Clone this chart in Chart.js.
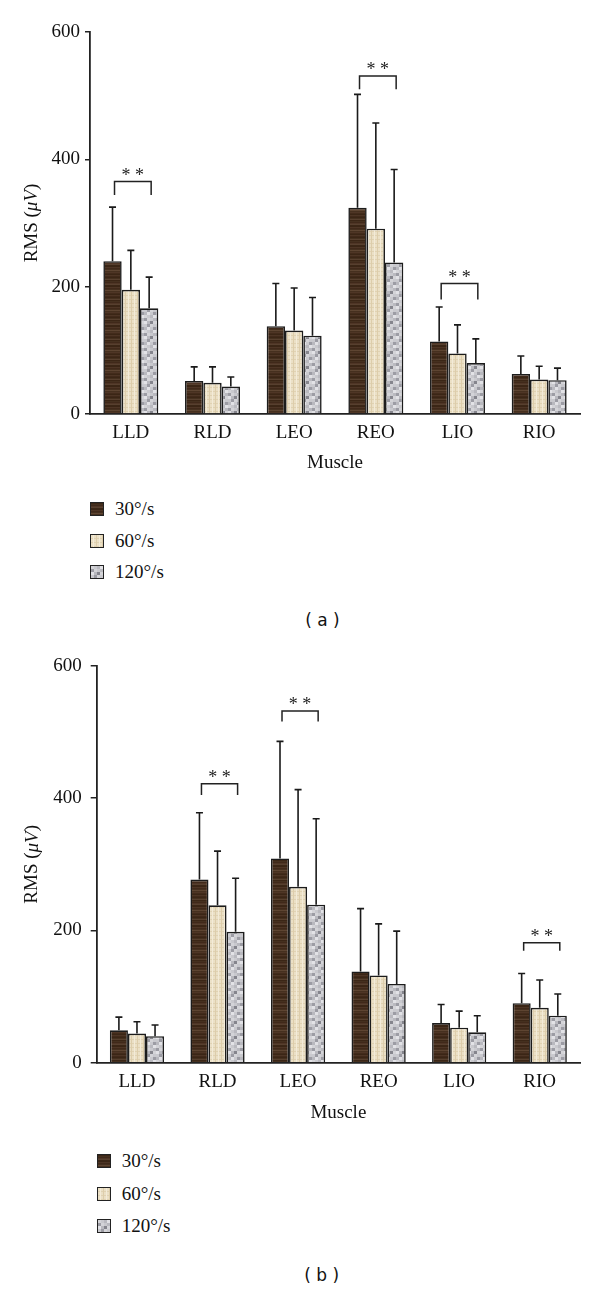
<!DOCTYPE html>
<html><head><meta charset="utf-8">
<script src="https://cdn.jsdelivr.net/npm/chart.js@4.4.1/dist/chart.umd.min.js"></script>
<style>
html,body{margin:0;padding:0;background:#fff;}
body{width:600px;height:1290px;position:relative;overflow:hidden;}
canvas{position:absolute;left:0;}
.sw{position:absolute;width:12px;height:12px;border:1px solid #222;background-size:auto;}
.lt{position:absolute;font:19px "Liberation Serif",serif;color:#111;transform:translateY(-50%);white-space:nowrap;}
.cap{position:absolute;font:17px "DejaVu Sans",sans-serif;color:#111;transform:translate(-50%,-50%);white-space:pre;}
</style></head>
<body>
<canvas id="cA" width="600" height="480" style="top:0px;width:600px;height:480px"></canvas>
<canvas id="cB" width="600" height="490" style="top:640px;width:600px;height:490px"></canvas>
<div id="legA"></div><div id="legB"></div>
<div class="cap" style="left:322.5px;top:620px">( a )</div>
<div class="cap" style="left:321.7px;top:1275px">( b )</div>
<script>
// ---------- data ----------
const categories = ['LLD','RLD','LEO','REO','LIO','RIO'];
const seriesNames = ['30°/s','60°/s','120°/s'];
const yTicks = [0,200,400,600];

// panel (a)
const a30  = [240, 52, 138, 324, 114, 63];
const a60  = [195, 49, 131, 291,  95, 54];
const a120 = [166, 43, 123, 238,  80, 53];
const a30Sd  = [85, 22, 67, 178, 54, 28];
const a60Sd  = [62, 25, 67, 166, 45, 21];
const a120Sd = [49, 15, 60, 146, 38, 19];
const aSigCats = [0, 3, 4];
const aSigTop  = [365, 531, 205];
const aSigLeg  = [344, 510, 180];

// panel (b)
const b30  = [49, 277, 309, 138, 60, 90];
const b60  = [44, 238, 266, 132, 53, 83];
const b120 = [40, 198, 239, 119, 46, 71];
const b30Sd  = [20, 101, 177, 95, 28, 45];
const b60Sd  = [18,  82, 147, 78, 25, 42];
const b120Sd = [17,  81, 130, 80, 25, 33];
const bSigCats = [1, 2, 5];
const bSigTop  = [422, 532, 181.5];
const bSigLeg  = [405, 516, 169.5];

// ---------- textures ----------
function tile(w,h,draw){const c=document.createElement('canvas');c.width=w;c.height=h;draw(c.getContext('2d'));return c;}
const brownShades=['#3b2616','#45301f','#4f3626','#40291a','#57402f','#46301f','#3a2515','#4d3525','#5e4532','#422b1b'];
const brownRows=[0,1,3,2,4,0,6,7,3,1,8,5,2,9,0,7,3,6,1,4];
const brownTile=tile(10,brownRows.length,g=>{brownRows.forEach((s,r)=>{g.fillStyle=brownShades[s];g.fillRect(0,r,10,1);});});
const beigeTile=tile(6,8,g=>{g.fillStyle='#ebe0c6';g.fillRect(0,0,6,8);g.fillStyle='#e0d2b2';g.fillRect(0,3,6,1);g.fillRect(0,7,6,1);g.fillStyle='#f3ebd8';g.fillRect(2,0,1,8);g.fillStyle='#ddcdab';g.fillRect(5,0,1,8);});
const greyShades=['#d4d4d8','#b9b9bf','#9c9ca4','#c9c9ce','#85858d','#e2e2e6'];
const greyMap=[[0,3,1,5],[2,0,3,1],[5,1,4,0],[3,2,0,3],[1,5,3,2]];
const greyTile=tile(12,15,g=>{greyMap.forEach((row,r)=>row.forEach((s,c)=>{g.fillStyle=greyShades[s];g.fillRect(c*3,r*3,3,3);}));});
const tmp=document.createElement('canvas').getContext('2d');
const fills=[tmp.createPattern(brownTile,'repeat'),tmp.createPattern(beigeTile,'repeat'),tmp.createPattern(greyTile,'repeat')];
const tiles=[brownTile,beigeTile,greyTile];

// ---------- plugins ----------
const errPlugin={id:'err',afterDatasetsDraw(chart,args,opts){
  const ctx=chart.ctx,ys=chart.scales.y;
  ctx.save();ctx.strokeStyle='#1a1a1a';ctx.lineWidth=1.6;
  chart.data.datasets.forEach((ds,i)=>{
    const meta=chart.getDatasetMeta(i);
    meta.data.forEach((el,j)=>{
      const top=ys.getPixelForValue(ds.data[j]+ds.sd[j]);
      ctx.beginPath();ctx.moveTo(el.x,el.y);ctx.lineTo(el.x,top);
      ctx.moveTo(el.x-3.5,top);ctx.lineTo(el.x+3.5,top);ctx.stroke();
    });
  });
  ctx.restore();
}};
const sigPlugin={id:'sig',afterDatasetsDraw(chart,args,opts){
  const ctx=chart.ctx,ys=chart.scales.y;
  const m0=chart.getDatasetMeta(0),m2=chart.getDatasetMeta(2);
  ctx.save();ctx.strokeStyle='#222';ctx.lineWidth=1.5;ctx.fillStyle='#222';
  ctx.font='18px "Liberation Serif", serif';ctx.textAlign='center';ctx.textBaseline='alphabetic';
  opts.cats.forEach((c,k)=>{
    const x1=m0.data[c].x+2,x2=m2.data[c].x+2;
    const yt=ys.getPixelForValue(opts.top[k]),yb=ys.getPixelForValue(opts.leg[k]);
    ctx.beginPath();ctx.moveTo(x1,yb);ctx.lineTo(x1,yt);ctx.lineTo(x2,yt);ctx.lineTo(x2,yb);ctx.stroke();
    ctx.fillText('* *',(x1+x2)/2,yt-0.5);
  });
  ctx.restore();
}};
const yTitlePlugin={id:'ytitle',afterDraw(chart,args,opts){
  const ctx=chart.ctx,ca=chart.chartArea;
  const f='19px "Liberation Serif", serif';
  const parts=[['RMS (', f],['μV','italic '+f],[')',f]];
  let total=0;parts.forEach(p=>{ctx.font=p[1];total+=ctx.measureText(p[0]).width;});
  ctx.save();ctx.translate(opts.x,(ca.top+ca.bottom)/2);ctx.rotate(-Math.PI/2);
  ctx.fillStyle='#111';ctx.textBaseline='middle';ctx.textAlign='left';
  let x=-total/2;parts.forEach(p=>{ctx.font=p[1];ctx.fillText(p[0],x,0);x+=ctx.measureText(p[0]).width;});
  ctx.restore();
}};

const serif={family:'"Liberation Serif", serif',size:19};
function makeChart(id,vals,sds,sig,L){
  return new Chart(document.getElementById(id),{
    type:'bar',
    data:{labels:categories,datasets:vals.map((v,i)=>({label:seriesNames[i],data:v,sd:sds[i],backgroundColor:fills[i],borderColor:'#1c1c1c',borderWidth:1.6,borderSkipped:'bottom',categoryPercentage:0.673,barPercentage:1.0}))},
    options:{
      responsive:false,animation:false,devicePixelRatio:1,
      layout:{padding:{top:L.top,right:20,left:0,bottom:0}},
      plugins:{legend:{display:false},tooltip:{enabled:false},sig:sig,ytitle:{x:L.tx}},
      scales:{
        x:{grid:{display:true,drawOnChartArea:false,drawTicks:false},border:{display:true,color:'#222',width:1.8},
           ticks:{color:'#111',font:serif,padding:8,maxRotation:0,autoSkip:false},
           title:{display:true,text:'Muscle',color:'#111',font:serif,padding:{top:0,bottom:5.6}},
           afterFit(s){s.height=L.xh;}},
        y:{min:0,max:600,afterBuildTicks(s){s.ticks=yTicks.map(v=>({value:v}));},
           ticks:{color:'#111',font:serif,padding:L.tp},
           grid:{display:true,drawOnChartArea:false,drawTicks:true,tickLength:L.tl,color:'#222',lineWidth:1.5},
           border:{display:true,color:'#222',width:1.8},
           afterFit(s){s.width=L.yw;}}
      }
    },
    plugins:[errPlugin,sigPlugin,yTitlePlugin]
  });
}
makeChart('cA',[a30,a60,a120],[a30Sd,a60Sd,a120Sd],{cats:aSigCats,top:aSigTop,leg:aSigLeg},{top:32,xh:66,yw:90,tl:5,tp:5,tx:31.7});
makeChart('cB',[b30,b60,b120],[b30Sd,b60Sd,b120Sd],{cats:bSigCats,top:bSigTop,leg:bSigLeg},{top:26,xh:67.3,yw:96.7,tl:6,tp:9,tx:32.5});

// ---------- legends ----------
function legend(elId,x,tx,ys){
  const host=document.getElementById(elId);
  seriesNames.forEach((n,i)=>{
    const s=document.createElement('div');s.className='sw';
    s.style.left=x+'px';s.style.top=(ys[i]-7)+'px';s.style.backgroundImage='url('+tiles[i].toDataURL()+')';
    host.appendChild(s);
    const t=document.createElement('div');t.className='lt';t.textContent=n;
    t.style.left=tx+'px';t.style.top=ys[i]+'px';host.appendChild(t);
  });
}
legend('legA',90,115,[509.3,540.7,572]);
legend('legB',96.7,121.7,[1161,1194,1226]);
</script>
</body></html>
